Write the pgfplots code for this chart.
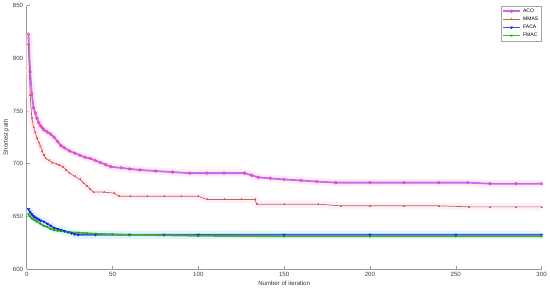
\documentclass[border=0pt]{standalone}
\usepackage{fontspec}
\setmainfont{Liberation Sans}
\usepackage{pgfplots}
\pgfplotsset{compat=1.18}

\definecolor{acoline}{RGB}{205,105,240}
\definecolor{mmasline}{RGB}{175,110,80}
\definecolor{facaline}{RGB}{70,80,230}
\definecolor{fmacline}{RGB}{70,175,40}

\pgfplotstableread{
x y
1 823
2 787
3 766
4 753
5 748
6 743
7 739
8 736
9 734
10 732
12 730
14 728
16 725
18 721
20 717
22 715
25 712
28 710
31 708
34 706
37 705
40 703
43 701
46 699
49 697
55 696
60 695
66 694
75 693
85 692
95 691
105 691
115 691
127 691
131 689
135 687
142 686
150 685
160 684
169 683
180 682
200 682
220 682
240 682
257 682
270 681
285 681
300 681
}\aco

\pgfplotstableread{
x y
1 813
2 765
3 743
4 735
5 730
6 724
7 720
8 717
9 712
10 708
11 705
13 703
15 701
17 700
19 699
21 697
23 694
25 691
28 688
31 685
33 682
35 679
37 676
39 673
45 673
51 672
54 669
60 669
70 669
80 669
90 669
100 669
105 666
115 666
125 666
133 666
134 661.5
150 661.5
170 661.5
183 660
200 660
220 660
240 660
258 659
270 659
285 659
300 659
}\mmas

\pgfplotstableread{
x y
1 657
2 654
3 652
4 650
5 649
6 648
7 647
8 646
10 645
12 643
14 641
16 639
18 638
20 637
22 636
24 635
26 634
28 633
30 632.5
40 632.5
60 632.5
80 632.5
100 632.5
150 632.5
200 632.5
250 632.5
300 632.5
}\faca

\pgfplotstableread{
x y
1 652
2 650
3 648
4 647
5 646
6 645
8 643
10 641
12 640
14 638
16 637
18 636.5
20 636
25 635
30 634.5
35 634
40 633.5
50 633
60 632.5
80 632
100 631.5
150 631
200 631
250 631
300 631
}\fmac

\begin{document}
\begin{tikzpicture}
\begin{axis}[
    scale only axis,
    width=508pt, height=260pt,
    xmin=0, xmax=300, ymin=600, ymax=850,
    axis x line*=bottom, axis y line*=left,
    axis line style={draw=gray!80, line width=0.5pt},
    xtick={0,50,...,300}, ytick={600,650,...,850},
    tick style={gray!80, line width=0.4pt},
    major tick length=3pt,
    tick align=inside,
    tick label style={font=\fontsize{6}{7}\selectfont, text=black!75},
    /pgf/number format/assume math mode=true,
    xlabel={Number of iteration},
    ylabel={Shortest path},
    label style={font=\fontsize{6}{7}\selectfont, text=black!80},
    xlabel style={yshift=3pt},
    ylabel style={yshift=-3pt},
    legend style={at={(1,1)}, anchor=north east, draw=gray!70,
        font=\fontsize{5}{6}\selectfont, inner sep=1pt,
        row sep=-1pt, cells={anchor=west}},
    legend cell align=left,
]
% soft colour halo round each curve
\addplot[forget plot, line width=7pt, magenta!7] table {\aco};
\addplot[forget plot, line width=7pt, magenta!6] table {\mmas};
\addplot[forget plot, line width=8pt, cyan!12] table {\faca};

\addplot[acoline, line width=1.8pt, mark=o, mark size=1.5pt,
    mark options={magenta!80, line width=0.4pt}] table {\aco};
\addlegendentry{ACO}
\addplot[mmasline, line width=0.7pt, mark=+, mark size=1pt,
    mark options={red!70, line width=0.3pt}] table {\mmas};
\addlegendentry{MMAS}
\addplot[facaline, line width=1.6pt, mark=triangle, mark size=1.3pt,
    mark options={blue, rotate=180, line width=0.4pt}] table {\faca};
\addlegendentry{FACA}
\addplot[fmacline, line width=1.6pt, mark=asterisk, mark size=1.2pt,
    mark options={green!70!black, line width=0.4pt}] table {\fmac};
\addlegendentry{FMAC}
\end{axis}
\end{tikzpicture}
\end{document}
